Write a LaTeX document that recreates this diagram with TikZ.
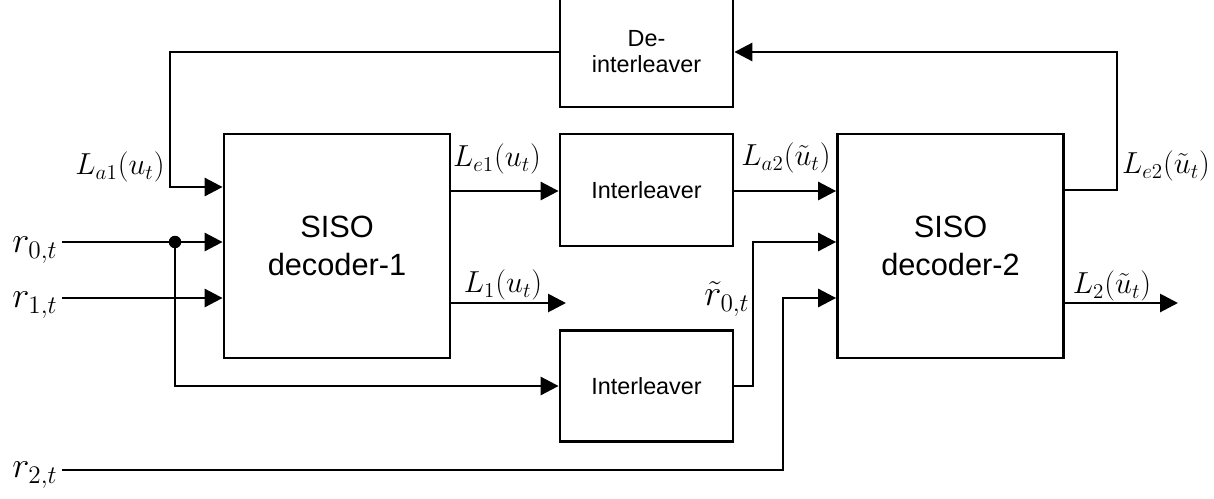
\documentclass[tikz,border=0pt]{standalone}
\usepackage{fontspec}
\setmainfont{Liberation Sans}
\usetikzlibrary{arrows.meta}
\begin{document}
\begin{tikzpicture}[x=0.02cm,y=-0.02cm, line width=1.6pt,
  box/.style={draw, inner sep=0pt, align=center},
  dec/.style={box, minimum width=4.52cm, minimum height=4.48cm, font=\fontsize{17.5}{21.6}\selectfont},
  ilv/.style={box, minimum width=3.46cm, font=\fontsize{13.3}{14.5}\selectfont},
  arr/.style={-{Triangle[length=0.36cm,width=0.36cm]}},
  lab/.style={inner sep=0pt, font=\fontsize{17}{20}\selectfont},
  rlab/.style={inner sep=0pt, font=\fontsize{20}{22}\selectfont},
  dot/.style={circle, fill, inner sep=0pt, minimum size=0.25cm}]
\useasboundingbox (0,0) rectangle (1214,498);

% boxes
\node[dec] (d1) at (337,246) {SISO\\decoder-1};
\node[dec] (d2) at (950.5,246) {SISO\\decoder-2};
\node[ilv, minimum height=2.24cm] (i1) at (646.5,190) {Interleaver};
\node[ilv, minimum height=2.22cm] (i2) at (646.5,386) {Interleaver};
\node[ilv, minimum height=2.22cm] (di) at (646.5,51.5) {De-\\interleaver};

% free ends
\coordinate (r0) at (62,242);
\coordinate (r1) at (62,298);
\coordinate (r2) at (62,470);
\coordinate (l1end) at (566,303);
\coordinate (l2end) at (1178,303);
\node[dot] (j) at (175,242) {};

% feedback
\draw[arr] (d2.east |- 0,190) -- (1117,190) -- (1117,52) -- (di.east |- 0,52);
\draw[arr] (di.west |- 0,52) -- (170,52) -- (170,187) -- (d1.west |- 0,187);

% forward
\draw[arr] (d1.east |- 0,191) -- (i1.west |- 0,191);
\draw[arr] (i1.east |- 0,191) -- (d2.west |- 0,191);
\draw[arr] (r0) -- (d1.west |- r0);
\draw[arr] (r1) -- (d1.west |- r1);
\draw[arr] (j.center) |- (i2.west);
\draw[arr] (d1.east |- l1end) -- (l1end);
\draw[arr] (i2.east) -- (753,386) -- (753,242) -- (d2.west |- 0,242);
\draw[arr] (r2) -- (783,470) -- (783,298) -- (d2.west |- 0,298);
\draw[arr] (d2.east |- l2end) -- (l2end);

% labels
\node[lab] at (120,167) {$L_{a1}(u_t)$};
\node[rlab] at (35,250) {$r_{0,t}$};
\node[rlab] at (35,305) {$r_{1,t}$};
\node[rlab] at (35,475) {$r_{2,t}$};
\node[lab] at (497,159) {$L_{e1}(u_t)$};
\node[lab] at (503,285) {$L_{1}(u_t)$};
\node[lab] at (786,158) {$L_{a2}(\tilde u_t)$};
\node[rlab] at (727,299) {$\tilde r_{0,t}$};
\node[lab] at (1166,166) {$L_{e2}(\tilde u_t)$};
\node[lab] at (1112,286) {$L_{2}(\tilde u_t)$};
\end{tikzpicture}
\end{document}
